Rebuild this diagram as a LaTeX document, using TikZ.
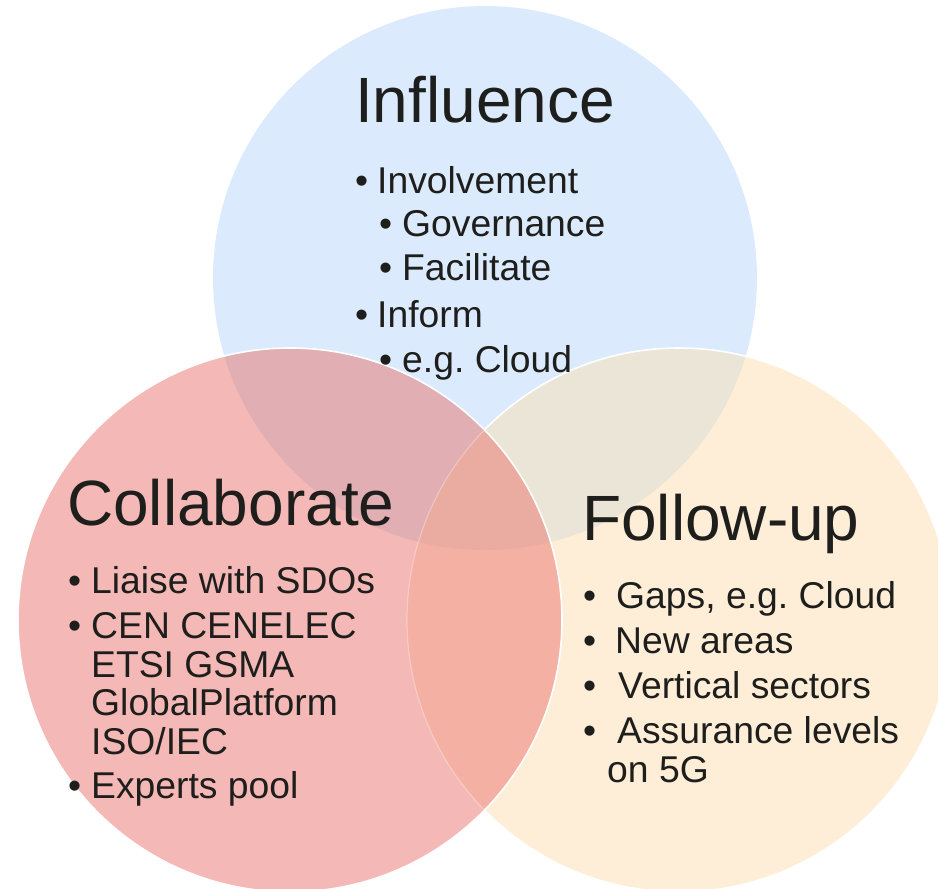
\documentclass[tikz,border=0pt]{standalone}
\usepackage{fontspec}
\setmainfont{Liberation Sans}
\frenchspacing
\definecolor{cB}{HTML}{DBEBFD}
\definecolor{cO}{HTML}{FEEED8}
\definecolor{cP}{HTML}{F4B9B6}
\definecolor{cBO}{HTML}{EAE5D6}
\definecolor{cBP}{HTML}{E1AEB3}
\definecolor{cOP}{HTML}{F4B0A2}
\definecolor{cBOP}{HTML}{EAACA0}
\definecolor{txt}{HTML}{1E1E1C}
\tikzset{
  ttl/.style={anchor=base west,inner sep=0pt,text=txt,font=\fontsize{64}{70}\selectfont},
  itm/.style={anchor=base west,inner sep=0pt,text=txt,font=\fontsize{37.3}{44}\selectfont},
  edge/.style={draw=white,line width=1.6pt}
}
\begin{document}
\begin{tikzpicture}[x=1pt,y=-1pt]
\useasboundingbox (0,0) rectangle (938,889);
\def\R{272}
\coordinate (cb) at (485,278);
\coordinate (cp) at (290,620);
\coordinate (co) at (679,620);
% base fills
\fill[cB] (cb) circle (\R);
\fill[cO] (co) circle (\R);
\begin{scope}
  \clip (cb) circle (\R);
  \fill[cBO] (co) circle (\R);
\end{scope}
\draw[edge] (co) circle (\R);
\fill[cP] (cp) circle (\R);
\begin{scope}
  \clip (cb) circle (\R);
  \fill[cBP] (cp) circle (\R);
\end{scope}
\begin{scope}
  \clip (co) circle (\R);
  \fill[cOP] (cp) circle (\R);
\end{scope}
\begin{scope}
  \clip (cb) circle (\R);
  \clip (co) circle (\R);
  \fill[cBOP] (cp) circle (\R);
\end{scope}
\begin{scope}
  \clip (cp) circle (\R);
  \draw[draw=white,line width=1.2pt,opacity=0.3] (co) circle (\R);
\end{scope}
\draw[edge] (cp) circle (\R);
% Influence
\node[ttl] (t1) at (355,122) {Influence};
\node[itm] (b11) at (355,193) {•};
\node[itm] (i11) at (377,193) {Involvement};
\node[itm] (b12) at (379,236) {•};
\node[itm] (i12) at (402,236) {Governance};
\node[itm] (b13) at (379,280) {•};
\node[itm] (i13) at (402,280) {Facilitate};
\node[itm] (b14) at (355,327) {•};
\node[itm] (i14) at (377,327) {Inform};
\node[itm] (b15) at (379,372) {•};
\node[itm] (i15) at (402,372) {e.g. Cloud};
% Collaborate
\node[ttl] (t2) at (67,525) {Collaborate};
\node[itm] (b21) at (68,593) {•};
\node[itm] (i21) at (91,593) {Liaise with SDOs};
\node[itm] (b22) at (68,638) {•};
\node[itm] (i22) at (91,638) {CEN CENELEC};
\node[itm] (i23) at (91,677) {ETSI GSMA};
\node[itm] (i24) at (91,715) {GlobalPlatform};
\node[itm] (i25) at (91,754) {ISO/IEC};
\node[itm] (b26) at (68,798) {•};
\node[itm] (i26) at (91,798) {Experts pool};
% Follow-up
\node[ttl] (t3) at (582,540) {Follow-up};
\node[itm] (b31) at (583,608) {•};
\node[itm] (i31) at (616,608) {Gaps, e.g. Cloud};
\node[itm] (b32) at (583,653) {•};
\node[itm] (i32) at (615,653) {New areas};
\node[itm] (b33) at (583,698) {•};
\node[itm] (i33) at (618,698) {Vertical sectors};
\node[itm] (b34) at (583,743) {•};
\node[itm] (i34) at (617,743) {Assurance levels};
\node[itm] (i35) at (607,782) {on 5G};
\end{tikzpicture}
\end{document}
